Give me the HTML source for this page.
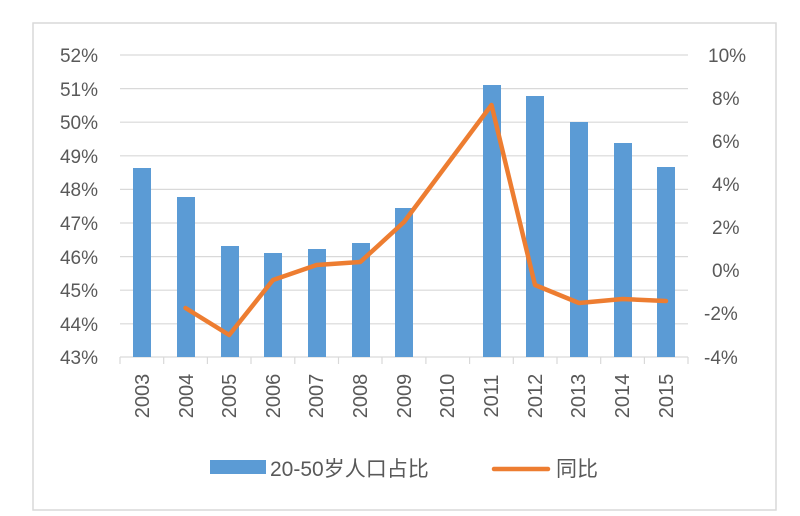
<!DOCTYPE html>
<html><head><meta charset="utf-8"><style>
body{margin:0;background:#fff;}
svg{display:block;font-family:"Liberation Sans","Noto Sans CJK SC",sans-serif;}
</style></head><body>
<svg width="800" height="516" viewBox="0 0 800 516">
<rect x="33" y="23" width="743" height="487" fill="#fff" stroke="#d9d9d9" stroke-width="1.5"/>
<g stroke="#d9d9d9" stroke-width="1.2">
<line x1="120" x2="688" y1="55" y2="55"/><line x1="120" x2="688" y1="88.6" y2="88.6"/>
<line x1="120" x2="688" y1="122.2" y2="122.2"/><line x1="120" x2="688" y1="155.8" y2="155.8"/>
<line x1="120" x2="688" y1="189.4" y2="189.4"/><line x1="120" x2="688" y1="223" y2="223"/>
<line x1="120" x2="688" y1="256.6" y2="256.6"/><line x1="120" x2="688" y1="290.2" y2="290.2"/>
<line x1="120" x2="688" y1="323.8" y2="323.8"/><line x1="120" x2="688" y1="357" y2="357"/>
</g>
<g stroke="#d9d9d9" stroke-width="1.2">
<line x1="120" x2="120" y1="357" y2="364"/><line x1="163.7" x2="163.7" y1="357" y2="364"/><line x1="207.4" x2="207.4" y1="357" y2="364"/><line x1="251" x2="251" y1="357" y2="364"/><line x1="294.8" x2="294.8" y1="357" y2="364"/><line x1="338.5" x2="338.5" y1="357" y2="364"/><line x1="382" x2="382" y1="357" y2="364"/><line x1="425.9" x2="425.9" y1="357" y2="364"/><line x1="469.6" x2="469.6" y1="357" y2="364"/><line x1="513.3" x2="513.3" y1="357" y2="364"/><line x1="557" x2="557" y1="357" y2="364"/><line x1="600.7" x2="600.7" y1="357" y2="364"/><line x1="644.4" x2="644.4" y1="357" y2="364"/><line x1="688" x2="688" y1="357" y2="364"/>
</g>
<g font-size="19" fill="#595959" text-anchor="end">
<text x="98" y="62">52%</text><text x="98" y="96">51%</text><text x="98" y="129">50%</text><text x="98" y="163">49%</text><text x="98" y="196">48%</text><text x="98" y="230">47%</text><text x="98" y="264">46%</text><text x="98" y="297">45%</text><text x="98" y="331">44%</text><text x="98" y="364">43%</text>
</g>
<g font-size="19" fill="#595959" text-anchor="start">
<text x="708" y="62">10%</text><text x="712" y="105">8%</text><text x="712" y="148">6%</text><text x="712" y="191">4%</text><text x="712" y="234">2%</text><text x="712" y="277">0%</text><text x="704" y="320">-2%</text><text x="704" y="364">-4%</text>
</g>
<g fill="#5b9bd5">
<rect x="133" y="168" width="18" height="189"/>
<rect x="177" y="197" width="18" height="160"/>
<rect x="221" y="246" width="18" height="111"/>
<rect x="264" y="253" width="18" height="104"/>
<rect x="308" y="249" width="18" height="108"/>
<rect x="352" y="243" width="18" height="114"/>
<rect x="395" y="208" width="18" height="149"/>
<rect x="483" y="85" width="18" height="272"/>
<rect x="526" y="96" width="18" height="261"/>
<rect x="570" y="122" width="18" height="235"/>
<rect x="614" y="143" width="18" height="214"/>
<rect x="657" y="167" width="18" height="190"/>
</g>
<path d="M185.5,308 L229.2,335 L273,280 L316.6,265 L360.3,262 L404,222 L491.5,105 L535,285 L579,303 L622.5,299 L666,301" fill="none" stroke="#ed7d31" stroke-width="4.5" stroke-linejoin="round" stroke-linecap="round"/>
<g font-size="20" fill="#595959" text-anchor="middle">
<text transform="translate(149,396) rotate(-90)">2003</text>
<text transform="translate(193,396) rotate(-90)">2004</text>
<text transform="translate(236,396) rotate(-90)">2005</text>
<text transform="translate(280,396) rotate(-90)">2006</text>
<text transform="translate(323,396) rotate(-90)">2007</text>
<text transform="translate(367,396) rotate(-90)">2008</text>
<text transform="translate(411,396) rotate(-90)">2009</text>
<text transform="translate(454,396) rotate(-90)">2010</text>
<text transform="translate(498,396) rotate(-90)">2011</text>
<text transform="translate(542,396) rotate(-90)">2012</text>
<text transform="translate(585,396) rotate(-90)">2013</text>
<text transform="translate(629,396) rotate(-90)">2014</text>
<text transform="translate(673,396) rotate(-90)">2015</text>
</g>
<rect x="210" y="460" width="56" height="14" fill="#5b9bd5"/>
<text x="270" y="476" font-size="21" fill="#595959">20-50岁人口占比</text>
<line x1="494" x2="548" y1="469" y2="469" stroke="#ed7d31" stroke-width="4.5" stroke-linecap="round"/>
<text x="556" y="476" font-size="21" fill="#595959">同比</text>
</svg>
</body></html>
